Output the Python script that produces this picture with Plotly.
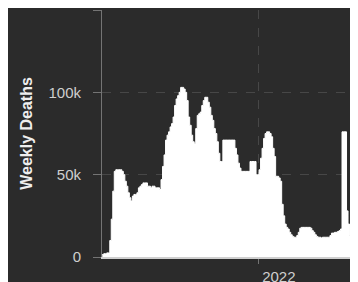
import pandas as pd
import plotly.graph_objects as go

start_week = "2020-01-05"
weekly_deaths = [
    1500, 2000, 2000, 2500, 2500, 10000, 23000, 40000, 52000, 53000,
    53000, 53000, 53000, 52000, 50000, 46000, 43000, 39000, 36000, 34000,
    37000, 38000, 38000, 39000, 42000, 43000, 44000, 45000, 45000, 45000,
    43000, 43000, 42000, 43000, 43000, 42000, 42000, 42000, 41000, 47000,
    55000, 62000, 71000, 74000, 76000, 79000, 81000, 85000, 92000, 96000,
    98000, 100000, 103000, 103000, 102000, 100000, 95000, 85000, 80000, 74000,
    70000, 69000, 78000, 86000, 87000, 88000, 92000, 95000, 97000, 97000,
    94000, 91000, 86000, 83000, 78000, 75000, 70000, 63000, 58000, 58000,
    71000, 71000, 71000, 71000, 71000, 71000, 71000, 71000, 66000, 62000,
    57000, 54000, 52000, 52000, 52000, 52000, 52000, 52000, 58000, 58000,
    58000, 58000, 50000, 50000, 53000, 60000, 66000, 72000, 75000, 76000,
    76000, 75000, 73000, 66000, 61000, 49000, 49000, 48000, 46000, 32000,
    25000, 20000, 18000, 17000, 15000, 13500, 12500, 12000, 12000, 13000,
    15000, 17500, 18000, 18000, 18000, 18000, 18000, 18000, 17500, 16000,
    15000, 13500, 12500, 12000, 12000, 11500, 12000, 12000, 12000, 12000,
    12000, 13000, 14500, 14500, 15000, 15000, 15500, 16000, 17000, 76000,
    76000, 76000, 28000, 20000, 13000, 10000, 8500, 8000, 7500,
]
weeks = pd.date_range(start_week, periods=len(weekly_deaths), freq="7D")

y_tickvals = [0, 50000, 100000, 150000]
y_ticktext = ["0", "50k", "100k", ""]
x_tickvals = ["2022-01-01"]
x_ticktext = ["2022"]

BG = "#2b2b2b"
GRID = "#474747"
AXIS = "#747474"
FONT = "Liberation Sans, Arial, sans-serif"

fig = go.Figure(
    go.Scatter(
        x=weeks, y=weekly_deaths, mode="lines", line=dict(shape="hv", color="white", width=1),
        fill="tozeroy", fillcolor="white", hoverinfo="skip", showlegend=False,
    )
)

fig.update_layout(
    width=350, height=274,
    margin=dict(l=94, r=2, t=2, b=25),
    paper_bgcolor=BG, plot_bgcolor=BG,
    font=dict(family=FONT, color="#cfcfcf", size=14),
    xaxis=dict(
        range=["2020-01-04", "2023-03-28"],
        automargin=False,
        tickvals=x_tickvals, ticktext=x_ticktext,
        ticks="outside", ticklen=5, tickcolor=AXIS,
        ticklabelshift=20,
        showline=True, linecolor="#cfcfcf", linewidth=2,
        showgrid=True, gridcolor=GRID, griddash="dash",
        zeroline=False, tickfont=dict(size=15, color="#cfcfcf"),
    ),
    yaxis=dict(
        range=[0, 150000],
        automargin=False,
        tickvals=y_tickvals, ticktext=y_ticktext,
        ticks="outside", ticklen=8, tickcolor=AXIS,
        ticklabelstandoff=9,
        showline=True, linecolor=AXIS, linewidth=1,
        showgrid=True, gridcolor=GRID, griddash="dash",
        zeroline=False, tickfont=dict(size=15, color="#cfcfcf"),
        title=dict(text="<b>Weekly Deaths</b>", font=dict(size=16, color="#eeeeee"), standoff=11),
    ),
)

fig.write_html("out.html")
